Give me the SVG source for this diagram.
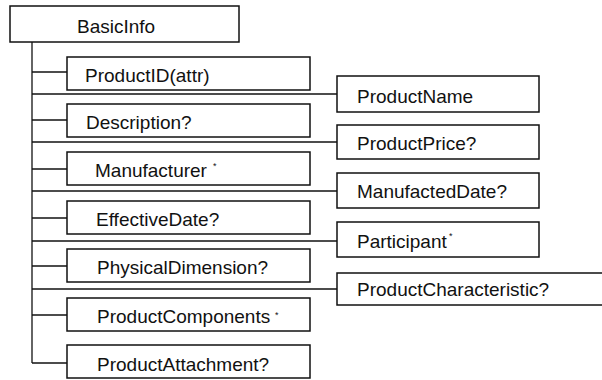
<svg xmlns="http://www.w3.org/2000/svg" width="602" height="380" viewBox="0 0 602 380">
<style>
rect.box{fill:#fff;stroke:#111;stroke-width:1.5}
text{font-family:"Liberation Sans",Arial,sans-serif;font-size:19px;fill:#111}
text.ast{font-size:9px}
#connectors line{stroke:#111;stroke-width:1.3}
</style>
<rect width="602" height="380" fill="#fff"/>
<g id="connectors">
<line x1="32" y1="42" x2="32" y2="363"/>
<line x1="32" y1="72" x2="67" y2="72"/>
<line x1="32" y1="120" x2="67" y2="120"/>
<line x1="32" y1="169" x2="67" y2="169"/>
<line x1="32" y1="218" x2="67" y2="218"/>
<line x1="32" y1="266" x2="67" y2="266"/>
<line x1="32" y1="315" x2="67" y2="315"/>
<line x1="32" y1="363" x2="67" y2="363"/>
<line x1="32" y1="94" x2="337" y2="94"/>
<line x1="32" y1="142" x2="337" y2="142"/>
<line x1="32" y1="191" x2="337" y2="191"/>
<line x1="32" y1="241" x2="337" y2="241"/>
<line x1="32" y1="289" x2="337" y2="289"/>
</g>
<g id="BasicInfo"><rect class="box" x="10" y="6" width="229" height="36"/><text x="77" y="33">BasicInfo</text></g>
<g id="ProductID"><rect class="box" x="67" y="57" width="243" height="33"/><text x="85" y="82">ProductID(attr)</text></g>
<g id="Description"><rect class="box" x="67" y="104" width="243" height="33"/><text x="86" y="129">Description?</text></g>
<g id="Manufacturer"><rect class="box" x="67" y="152" width="243" height="33"/><text x="95" y="177">Manufacturer</text><text class="ast" x="213" y="169">*</text></g>
<g id="EffectiveDate"><rect class="box" x="67" y="201" width="243" height="33"/><text x="96" y="226">EffectiveDate?</text></g>
<g id="PhysicalDimension"><rect class="box" x="67" y="249" width="243" height="33"/><text x="97" y="274">PhysicalDimension?</text></g>
<g id="ProductComponents"><rect class="box" x="67" y="298" width="243" height="33"/><text x="97" y="323">ProductComponents</text><text class="ast" x="275" y="318">*</text></g>
<g id="ProductAttachment"><rect class="box" x="67" y="345" width="243" height="33"/><text x="97" y="371">ProductAttachment?</text></g>
<g id="ProductName"><rect class="box" x="337" y="76" width="202" height="36"/><text x="357" y="103">ProductName</text></g>
<g id="ProductPrice"><rect class="box" x="337" y="125" width="202" height="34"/><text x="357" y="150">ProductPrice?</text></g>
<g id="ManufactedDate"><rect class="box" x="337" y="173" width="202" height="35"/><text x="357" y="198">ManufactedDate?</text></g>
<g id="Participant"><rect class="box" x="337" y="222" width="202" height="35"/><text x="357" y="248">Participant</text><text class="ast" x="449" y="239">*</text></g>
<g id="ProductCharacteristic"><rect class="box" x="337" y="273" width="270" height="32"/><text x="357" y="296">ProductCharacteristic?</text></g>
</svg>
